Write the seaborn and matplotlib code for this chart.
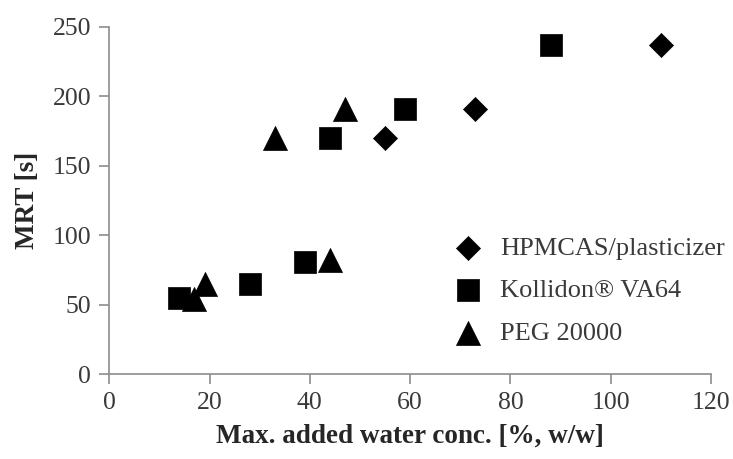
import matplotlib
matplotlib.use("Agg")
import matplotlib.pyplot as plt
import seaborn as sns
import pandas as pd

# Max. added water concentration [%, w/w] and mean residence time [s]
hpmcas_x = [55, 73, 110]
hpmcas_y = [170, 191, 237]
kollidon_x = [14, 28, 39, 44, 59, 88]
kollidon_y = [55, 65, 81, 170, 191, 237]
peg_x = [17, 19, 33, 44, 47]
peg_y = [54, 65, 170, 82, 191]

series_names = ["HPMCAS/plasticizer", "Kollidon\u00ae VA64", "PEG 20000"]
x_ticks = [0, 20, 40, 60, 80, 100, 120]
y_ticks = [0, 50, 100, 150, 200, 250]

sns.set_theme(style="white")
plt.rcParams["font.family"] = ["Liberation Serif", "DejaVu Serif"]

frames = []
for name, xs, ys in zip(series_names,
                        [hpmcas_x, kollidon_x, peg_x],
                        [hpmcas_y, kollidon_y, peg_y]):
    frames.append(pd.DataFrame({"x": xs, "y": ys, "series": name}))
df = pd.concat(frames, ignore_index=True)

fig = plt.figure(figsize=(7.33, 4.59), dpi=100)
ax = fig.add_axes([0.149, 0.185, 0.821, 0.757])

marker_map = {series_names[0]: "D", series_names[1]: "s", series_names[2]: "^"}
size_map = {series_names[0]: 150, series_names[1]: 260, series_names[2]: 300}

for name in series_names:
    sub = df[df["series"] == name]
    sns.scatterplot(data=sub, x="x", y="y", ax=ax, marker=marker_map[name],
                    s=size_map[name], color="black", edgecolor="black",
                    linewidth=0.5, label=name, zorder=3)

ax.set_xlim(0, 120)
ax.set_ylim(0, 250)
ax.set_xticks(x_ticks)
ax.set_yticks(y_ticks)

spine_color = "#8c8c8c"
for side in ["top", "right"]:
    ax.spines[side].set_visible(False)
for side in ["left", "bottom"]:
    ax.spines[side].set_color(spine_color)
    ax.spines[side].set_linewidth(1.2)
ax.tick_params(axis="both", which="major", direction="out", length=7,
               width=1.2, color=spine_color, labelsize=18.5,
               labelcolor="#3a3a3a", pad=6, left=True, bottom=True)

ax.set_xlabel("Max. added water conc. [%, w/w]", fontsize=19.5,
              fontweight="bold", labelpad=7)
ax.set_ylabel("MRT [s]", fontsize=19.5, fontweight="bold", labelpad=9)

leg = ax.legend(loc="upper left", bbox_to_anchor=(0.603, 0.508),
                bbox_transform=fig.transFigure, frameon=False,
                fontsize=19, handletextpad=0.6, labelspacing=0.72,
                borderaxespad=0, handlelength=1.2)
for t in leg.get_texts():
    t.set_color("#3a3a3a")

fig.savefig("out.png", dpi=100, facecolor="white")
